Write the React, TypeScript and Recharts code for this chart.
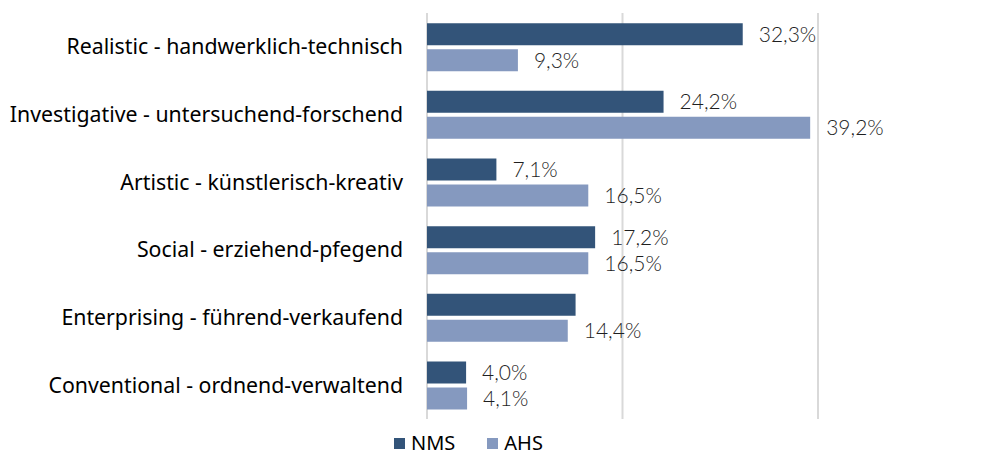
import { BarChart, Bar, XAxis, YAxis, CartesianGrid, LabelList } from 'recharts'

const categories = [
  'Realistic - handwerklich-technisch',
  'Investigative - untersuchend-forschend',
  'Artistic - künstlerisch-kreativ',
  'Social - erziehend-pfegend',
  'Enterprising - führend-verkaufend',
  'Conventional - ordnend-verwaltend',
]
const nms = [32.3, 24.2, 7.1, 17.2, 15.2, 4.0]
const ahs = [9.3, 39.2, 16.5, 16.5, 14.4, 4.1]
// the source shows no label on the NMS "Enterprising" bar
const nmsShowLabel = [true, true, true, true, false, true]
const xTicks = [0, 20, 40]

const data = categories.map((name, i) => ({
  name,
  nms: nms[i],
  ahs: ahs[i],
  nmsLabel: nmsShowLabel[i] ? nms[i] : null,
}))

const FONT = '"Noto Sans", "Open Sans", sans-serif'
const VALUE_FONT = 'Lato, "Noto Sans", sans-serif'
const NMS_COLOR = '#335479'
const AHS_COLOR = '#8599bf'
const fmt = (v: any) => (v == null ? '' : `${Number(v).toFixed(1).replace('.', ',')}%`)

const labelStyle = { fill: '#1f1f1f', fontSize: 21, fontFamily: VALUE_FONT, fontWeight: 300 }

function ChartLegend() {
  const items = [
    { label: 'NMS', color: NMS_COLOR },
    { label: 'AHS', color: AHS_COLOR },
  ]
  return (
    <div
      style={{
        position: 'absolute',
        left: 394,
        top: 430,
        display: 'flex',
        gap: 32,
        fontFamily: FONT,
        fontSize: 20,
        lineHeight: '26px',
        color: '#000',
      }}
    >
      {items.map(it => (
        <div key={it.label} style={{ display: 'flex', alignItems: 'center', gap: 6 }}>
          <span style={{ width: 11, height: 11, background: it.color, display: 'inline-block' }} />
          <span>{it.label}</span>
        </div>
      ))}
    </div>
  )
}

export default function App() {
  return (
    <div style={{ position: 'absolute', left: 0, top: 0, width: 1004, height: 456, background: '#fff' }}>
      <BarChart
        width={1004}
        height={456}
        data={data}
        layout="vertical"
        margin={{ top: 13, right: 186, bottom: 37, left: 0 }}
        barCategoryGap="15%"
        barGap={4}
      >
        <CartesianGrid
          horizontal={false}
          stroke="#d9d9d9"
          strokeWidth={2}
          verticalCoordinatesGenerator={({ offset }: any) =>
            xTicks.map(t => offset.left + (t / 40) * offset.width)
          }
        />
        <XAxis
          type="number"
          domain={[0, 40]}
          ticks={xTicks}
          tick={false}
          tickLine={false}
          axisLine={false}
          height={0}
        />
        <YAxis
          type="category"
          dataKey="name"
          width={427}
          tickLine={false}
          axisLine={false}
          tickMargin={18}
          interval={0}
          tick={{ fill: '#000', fontSize: 21.3, fontFamily: FONT }}
        />
        <Bar dataKey="nms" name="NMS" fill={NMS_COLOR} isAnimationActive={false}>
          <LabelList dataKey="nmsLabel" position="right" offset={16} formatter={fmt} style={labelStyle} />
        </Bar>
        <Bar dataKey="ahs" name="AHS" fill={AHS_COLOR} isAnimationActive={false}>
          <LabelList dataKey="ahs" position="right" offset={16} formatter={fmt} style={labelStyle} />
        </Bar>
      </BarChart>
      <ChartLegend />
    </div>
  )
}
